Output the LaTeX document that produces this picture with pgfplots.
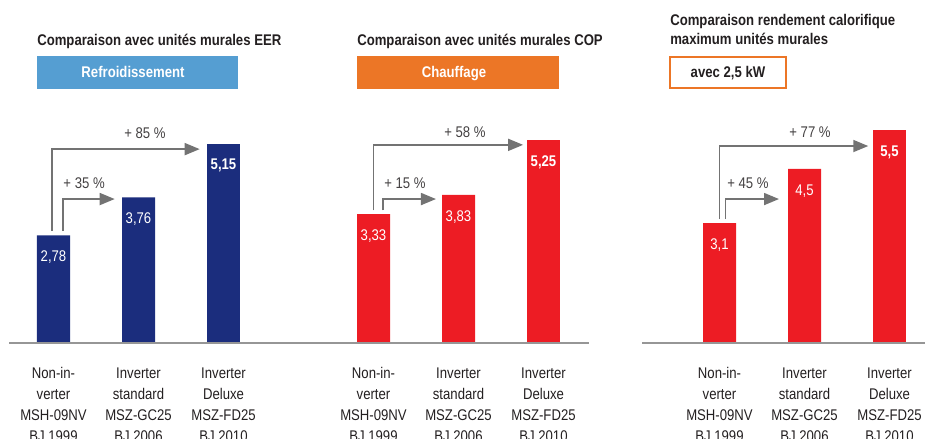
\documentclass[border=0pt]{standalone}
\usepackage{fontspec}
\setmainfont{Liberation Sans}[FakeStretch=0.85]
\usepackage{pgfplots}
\pgfplotsset{compat=1.18}
\usetikzlibrary{arrows.meta}
\definecolor{navy}{RGB}{27,45,125}
\definecolor{redbar}{RGB}{237,28,36}
\definecolor{boxblue}{RGB}{85,158,210}
\definecolor{boxorange}{RGB}{236,118,38}
\definecolor{txt}{RGB}{35,31,32}
\definecolor{arr}{RGB}{115,115,115}
\definecolor{baseln}{RGB}{150,150,150}
\tikzset{
 arrowline/.style={draw=arr, line width=1.3pt, -{Triangle[length=11.25pt,width=9pt]}},
 pct/.style={text=txt!85, font=\fontsize{11.6}{14}\selectfont},
}
\begin{document}
\begin{tikzpicture}
\useasboundingbox (0pt,0pt) rectangle (693.75pt,329.25pt);
\clip (0pt,0pt) rectangle (693.75pt,329.25pt);
\pgfplotsset{
 panel/.style={
  scale only axis, width=191.25pt, height=203.175pt,
  xmin=-0.5, xmax=2.5, ymin=0, ymax=7,
  anchor=south west,
  axis line style={draw=none}, tick style={draw=none}, ytick=\empty,
  xtick={0,1,2},
  xticklabels={{Non-in-\\verter\\MSH-09NV\\BJ 1999},{Inverter\\standard\\MSZ-GC25\\BJ 2006},{Inverter\\Deluxe\\MSZ-FD25\\BJ 2010}},
  xticklabel style={align=center, font=\fontsize{11.6}{15.75}\selectfont, text=txt, inner sep=0pt, yshift=-14pt},
  ybar, bar width=24.75pt, bar shift=0pt,
  point meta=explicit symbolic,
  nodes near coords,
  every node near coord/.append style={anchor=center, yshift=-16.5pt, text=white, font=\fontsize{11.6}{14}\selectfont},
  clip=false,
 },
 boldlab/.style={every node near coord/.append style={font=\fontsize{11.6}{14}\selectfont\bfseries}},
}
% Panel 1
\begin{axis}[panel, at={(8.25pt,72pt)}]
\addplot[fill=navy, draw=none] coordinates {(0,2.78) [2,78] (1,3.76) [3,76]};
\addplot[fill=navy, draw=none, boldlab] coordinates {(2,5.15) [5,15]};
\draw[arrowline] (axis cs:-0.02,2.89) |- (axis cs:1.72,5.01);
\draw[arrowline] (axis cs:0.11,2.89) |- (axis cs:0.72,3.72);
\node[pct] at (axis cs:1.076,5.43) {+ 85 \%};
\node[pct] at (axis cs:0.36,4.13) {+ 35 \%};
\end{axis}
% Panel 2
\begin{axis}[panel, at={(248.25pt,72pt)}]
\addplot[fill=redbar, draw=none] coordinates {(0,3.33) [3,33] (1,3.83) [3,83]};
\addplot[fill=redbar, draw=none, boldlab] coordinates {(2,5.25) [5,25]};
\draw[arrowline] (axis cs:0,3.43) |- (axis cs:1.76,5.12);
\draw[arrowline] (axis cs:0.11,3.43) |- (axis cs:0.735,3.72);
\node[pct] at (axis cs:1.076,5.45) {+ 58 \%};
\node[pct] at (axis cs:0.37,4.13) {+ 15 \%};
\end{axis}
% Panel 3
\begin{axis}[panel, at={(507.75pt,72pt)}]
\addplot[fill=redbar, draw=none] coordinates {(0,3.1) [3,1] (1,4.5) [4,5]};
\addplot[fill=redbar, draw=none, boldlab] coordinates {(2,5.5) [5,5]};
\draw[arrowline] (axis cs:0,3.2) |- (axis cs:1.75,5.09);
\draw[arrowline] (axis cs:0.07,3.2) |- (axis cs:0.70,3.72);
\node[pct] at (axis cs:1.065,5.45) {+ 77 \%};
\node[pct] at (axis cs:0.335,4.13) {+ 45 \%};
\end{axis}
\begin{scope}[x=0.75pt,y=0.75pt]
% baselines
\draw[baseln, line width=1.5pt] (9,96) -- (589,96);
\draw[baseln, line width=1.5pt] (642,96) -- (925,96);
% titles and boxes
\node[anchor=base west, inner sep=0pt, text=txt, font=\fontsize{11.6}{14}\selectfont\bfseries] at (37,393.3) {Comparaison avec unités murales EER};
\node[anchor=base west, inner sep=0pt, text=txt, font=\fontsize{11.6}{14}\selectfont\bfseries] at (357,393.3) {Comparaison avec unités murales COP};
\node[anchor=base west, inner sep=0pt, text=txt, font=\fontsize{11.6}{14}\selectfont\bfseries] at (670,413) {Comparaison rendement calorifique};
\node[anchor=base west, inner sep=0pt, text=txt, font=\fontsize{11.6}{14}\selectfont\bfseries] at (670,394) {maximum unités murales};
\fill[boxblue] (37,350) rectangle (238,383);
\fill[boxorange] (357,350) rectangle (559,383);
\draw[boxorange, line width=1.5pt] (670,351) rectangle (786,382);
\node[anchor=base, inner sep=0pt, text=white, font=\fontsize{11.6}{14}\selectfont\bfseries] at (133,361.7) {Refroidissement};
\node[anchor=base, inner sep=0pt, text=white, font=\fontsize{11.6}{14}\selectfont\bfseries] at (454,361.7) {Chauffage};
\node[anchor=base, inner sep=0pt, text=txt, font=\fontsize{11.6}{14}\selectfont\bfseries] at (728,361) {avec 2,5 kW};
\end{scope}
\end{tikzpicture}
\end{document}
